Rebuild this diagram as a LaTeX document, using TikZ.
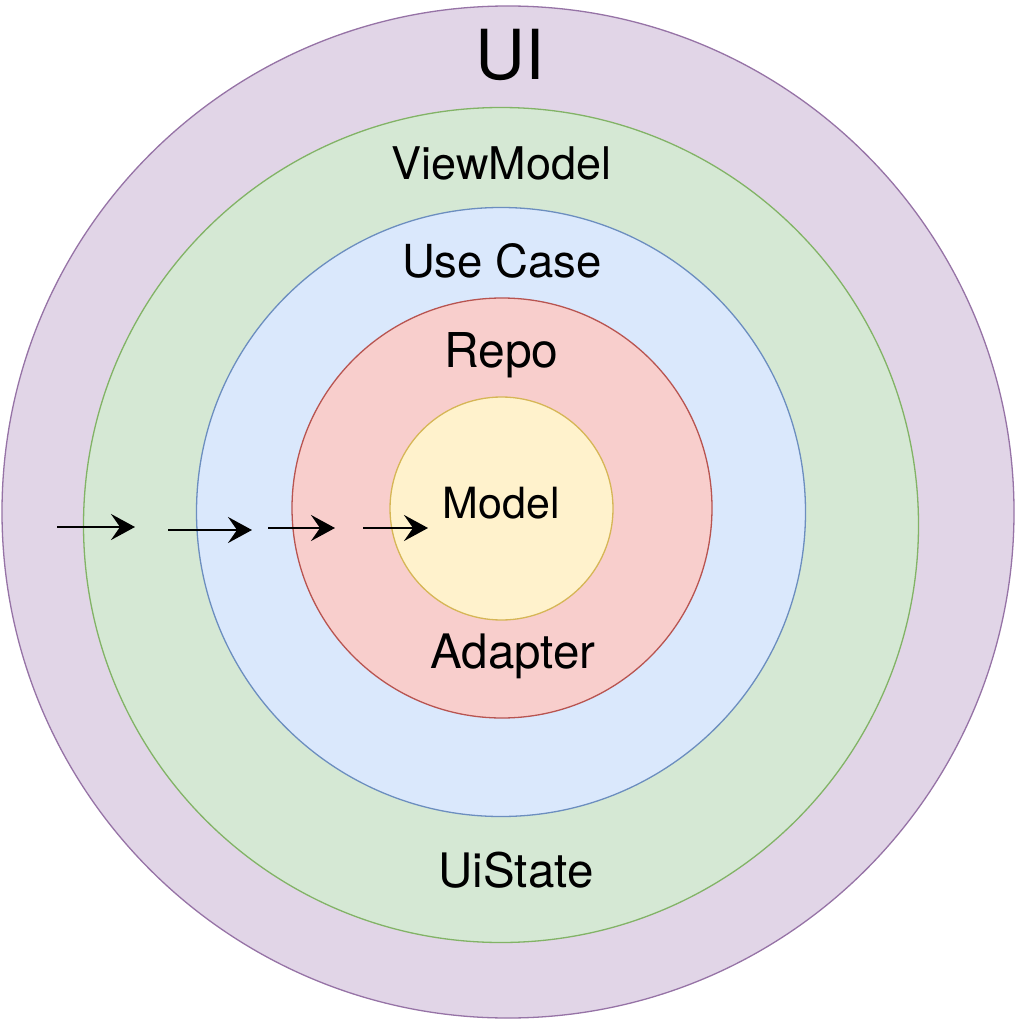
\documentclass[tikz,border=0pt]{standalone}
\usepackage{fontspec}
\setmainfont{TeX Gyre Heros}
\usetikzlibrary{arrows.meta}
\definecolor{pfill}{HTML}{E1D5E7}\definecolor{pline}{HTML}{9673A6}
\definecolor{gfill}{HTML}{D5E8D4}\definecolor{gline}{HTML}{82B366}
\definecolor{bfill}{HTML}{DAE8FC}\definecolor{bline}{HTML}{6C8EBF}
\definecolor{rfill}{HTML}{F8CECC}\definecolor{rline}{HTML}{B85450}
\definecolor{yfill}{HTML}{FFF2CC}\definecolor{yline}{HTML}{D6B656}
\begin{document}
\begin{tikzpicture}[x=1pt,y=-1pt,
  ring/.style={circle, inner sep=0pt, line width=1.3pt},
  lbl/.style={anchor=base, inner sep=0pt, text=black},
  flow/.style={line width=2.4pt, -{Stealth[length=24pt,width=26pt,inset=9pt]}}]
\useasboundingbox (0,0) rectangle (1021,1024);
\node[ring, draw=pline, fill=pfill, minimum size=1012pt] (ui) at (508,512) {};
\node[ring, draw=gline, fill=gfill, minimum size=835pt] (vm) at (501,525) {};
\node[ring, draw=bline, fill=bfill, minimum size=609pt] (uc) at (501,512) {};
\node[ring, draw=rline, fill=rfill, minimum size=420pt] (repo) at (502,508) {};
\node[ring, draw=yline, fill=yfill, minimum size=223pt] (model) at (501.5,508.5) {};

\node[lbl, font=\fontsize{69}{69}\selectfont] (tui) at (510,80) {UI};
\node[lbl, font=\fontsize{45}{45}\selectfont] (tvm) at (501.5,180) {ViewModel};
\node[lbl, font=\fontsize{45.5}{45}\selectfont] (tuc) at (502,277) {Use Case};
\node[lbl, font=\fontsize{48}{48}\selectfont] (trepo) at (501.5,367) {Repo};
\node[lbl, font=\fontsize{43}{43}\selectfont] (tmodel) at (501,518) {Model};
\node[lbl, font=\fontsize{47.5}{47}\selectfont] (tad) at (513,668) {Adapter};
\node[lbl, font=\fontsize{47.5}{47}\selectfont] (tst) at (516,887) {UiState};

\coordinate (a1s) at (57,527);  \coordinate (a1e) at (135,527);
\coordinate (a2s) at (168,530); \coordinate (a2e) at (252,530);
\coordinate (a3s) at (268,528); \coordinate (a3e) at (335,528);
\coordinate (a4s) at (363,528); \coordinate (a4e) at (428,528);
\draw[flow] (a1s) -- (a1e);
\draw[flow] (a2s) -- (a2e);
\draw[flow] (a3s) -- (a3e);
\draw[flow] (a4s) -- (a4e);
\end{tikzpicture}
\end{document}
